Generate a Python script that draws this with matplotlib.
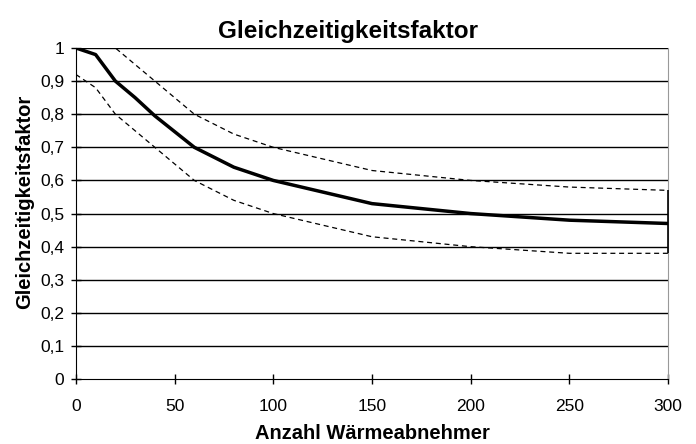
import numpy as np
import matplotlib
matplotlib.use('Agg')
import matplotlib.pyplot as plt
from matplotlib.ticker import FuncFormatter

plt.rcParams['font.family'] = ['Liberation Sans', 'DejaVu Sans']

# data
x_mid = [0, 10, 20, 30, 40, 60, 80, 100, 150, 200, 250, 300]
y_mid = [1.0, 0.98, 0.9, 0.85, 0.795, 0.7, 0.64, 0.6, 0.53, 0.5, 0.48, 0.47]

x_up = [0, 20, 40, 60, 80, 100, 150, 200, 250, 300]
y_up = [1.1, 1.0, 0.9, 0.8, 0.74, 0.7, 0.63, 0.6, 0.58, 0.57]

x_low = [0, 10, 20, 40, 60, 80, 100, 150, 200, 250, 300]
y_low = [0.92, 0.88, 0.8, 0.7, 0.6, 0.54, 0.5, 0.43, 0.4, 0.38, 0.38]

xticks = [0, 50, 100, 150, 200, 250, 300]
yticks = np.arange(0, 1.01, 0.1)

fig = plt.figure(figsize=(6.96, 4.44), dpi=100)
ax = fig.add_axes([0.109, 0.146, 0.851, 0.746])

for y in yticks[1:]:
    ax.axhline(y, color='black', lw=1, zorder=1)

ax.plot(x_up, y_up, color='black', lw=0.9, ls=(0, (4, 3)), zorder=3)
ax.plot(x_low, y_low, color='black', lw=0.9, ls=(0, (4, 3)), zorder=3)
ax.plot(x_mid, y_mid, color='black', lw=2.5, zorder=4)
ax.vlines(x_up[-1], y_low[-1], y_up[-1], color='black', lw=1.2, zorder=6, clip_on=False)

ax.set_xlim(0, 300)
ax.set_ylim(0, 1)
ax.set_xticks(xticks)
ax.set_yticks(yticks)
ax.yaxis.set_major_formatter(FuncFormatter(lambda v, p: ('%g' % round(v, 1)).replace('.', ',')))
ax.tick_params(direction='inout', length=7, width=1, labelsize=12.5, pad=5)
ax.tick_params(axis='x', pad=11)

ax.spines['top'].set_visible(False)
ax.spines['right'].set_color('#999999')

fig.suptitle('Gleichzeitigkeitsfaktor', x=0.5, y=0.93, va='center',
             fontsize=17.5, fontweight='bold')
ax.set_xlabel('Anzahl Wärmeabnehmer', fontsize=14.5, fontweight='bold', va='center')
ax.xaxis.set_label_coords(0.5, -0.163)
ax.set_ylabel('Gleichzeitigkeitsfaktor', fontsize=14.5, fontweight='bold', va='center')
ax.yaxis.set_label_coords(-0.086, 0.535)

fig.savefig('out.png', dpi=100)
